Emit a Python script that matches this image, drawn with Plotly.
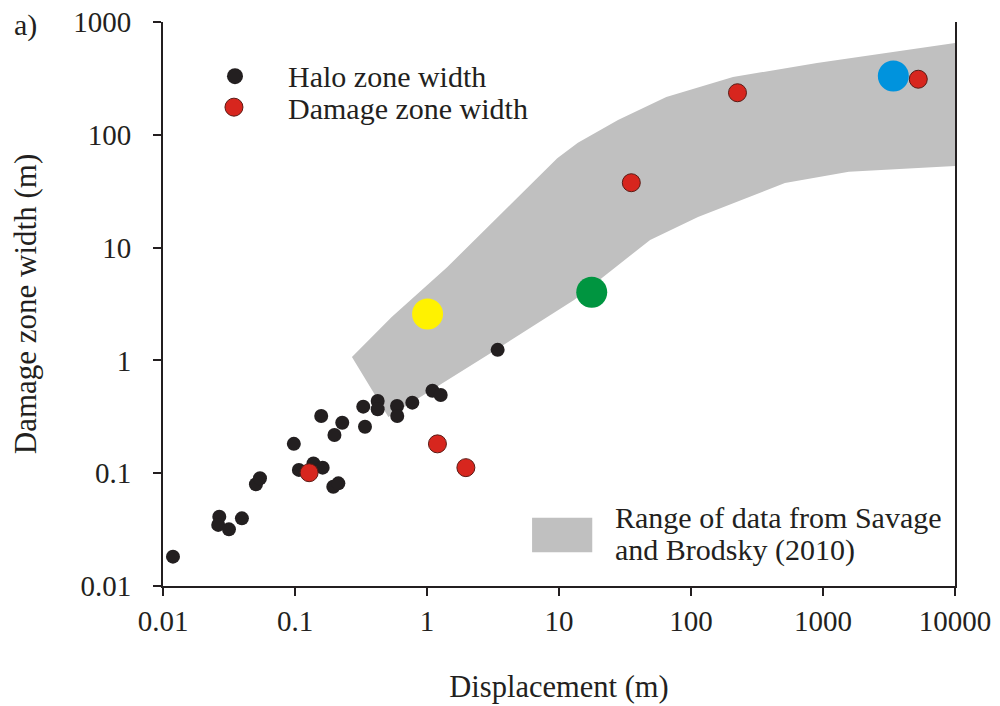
import plotly.graph_objects as go

# halo zone width (black dots)
halo_x = [0.0119, 0.0267, 0.0262, 0.0316, 0.0396, 0.0506, 0.0543, 0.098, 0.107,
          0.138, 0.162, 0.158, 0.199, 0.228, 0.195, 0.213, 0.329, 0.339, 0.423,
          0.423, 0.593, 0.595, 0.774, 1.10, 1.27, 3.43]
halo_y = [0.0182, 0.0412, 0.0348, 0.0318, 0.0398, 0.0798, 0.0901, 0.182, 0.107,
          0.122, 0.112, 0.321, 0.218, 0.280, 0.0759, 0.0813, 0.389, 0.258, 0.437,
          0.369, 0.394, 0.321, 0.422, 0.539, 0.493, 1.24]

# damage zone width (red dots)
dmg_x = [0.128, 1.20, 1.97, 35.3, 225, 5270]
dmg_y = [0.101, 0.182, 0.112, 37.6, 236, 311]

# highlighted faults
big_x = [1.01, 17.7, 3410]
big_y = [2.58, 4.02, 332]
big_col = ['#fff200', '#009540', '#0093dd']

# Savage and Brodsky (2010) envelope
env_x = [0.27, 0.54, 1.42, 9.7, 13.9, 28, 65, 208, 900, 10000,
         10000, 1570, 515, 113, 49, 13, 3.5, 0.51]
env_y = [1.07, 2.43, 6.7, 62, 85, 135, 216, 325, 433, 650,
         53, 47, 37.4, 18.7, 11.7, 3.43, 1.29, 0.315]

ticks = [0.01, 0.1, 1, 10, 100, 1000, 10000]
tick_txt = ['0.01', '0.1', '1', '10', '100', '1000', '10000']

FONT = 'Liberation Serif'
INK = '#231f20'

fig = go.Figure()
fig.add_trace(go.Scatter(x=env_x, y=env_y, fill='toself', mode='none',
                         fillcolor='#c0c0c0', showlegend=False))
fig.add_trace(go.Scatter(x=halo_x, y=halo_y, mode='markers', showlegend=False,
                         marker=dict(size=14, color=INK)))
fig.add_trace(go.Scatter(x=dmg_x, y=dmg_y, mode='markers', showlegend=False,
                         marker=dict(size=18, color='#d7261e',
                                     line=dict(color='#5a1a14', width=1))))
fig.add_trace(go.Scatter(x=big_x, y=big_y, mode='markers', showlegend=False,
                         marker=dict(size=31, color=big_col)))

# legend drawn by hand to match the original layout
shapes = [
    dict(type='circle', xref='paper', yref='paper', xsizemode='pixel', ysizemode='pixel',
         xanchor=0.0909, yanchor=0.904, x0=-8, x1=8, y0=-8, y1=8,
         fillcolor=INK, line=dict(width=0)),
    dict(type='circle', xref='paper', yref='paper', xsizemode='pixel', ysizemode='pixel',
         xanchor=0.0896, yanchor=0.849, x0=-9, x1=9, y0=-9, y1=9,
         fillcolor='#d7261e', line=dict(color='#5a1a14', width=1)),
    dict(type='rect', xref='paper', yref='paper', x0=0.466, x1=0.542, y0=0.060, y1=0.121,
         fillcolor='#c0c0c0', line=dict(width=0)),
]
annotations = [
    dict(text='Halo zone width', x=0.1553, y=0.904),
    dict(text='Damage zone width', x=0.1553, y=0.8475),
    dict(text='Range of data from Savage', x=0.568, y=0.1223),
    dict(text='and Brodsky (2010)', x=0.568, y=0.0638),
    dict(text='a)', x=-0.191, y=0.9947),
]
for a in annotations:
    a.update(xref='paper', yref='paper', xanchor='left', yanchor='middle',
             showarrow=False, font=dict(size=30, family=FONT, color=INK))

axis_common = dict(type='log', showgrid=False, zeroline=False, showline=True,
                   automargin=False, ticklabeloverflow='allow',
                   linecolor=INK, linewidth=2, ticks='outside', ticklen=8,
                   tickwidth=2, tickcolor=INK, tickvals=ticks, ticktext=tick_txt,
                   tickfont=dict(size=29, color=INK, family=FONT))

fig.update_layout(
    width=1000, height=706,
    margin=dict(l=163, r=45, t=22, b=120),
    plot_bgcolor='white', paper_bgcolor='white',
    font=dict(family=FONT, size=30, color=INK),
    xaxis=dict(axis_common, range=[-2, 4], ticklabelstandoff=0,
               title=dict(text='Displacement (m)', standoff=40,
                          font=dict(size=30.5, family=FONT, color=INK))),
    yaxis=dict(axis_common, range=[-2, 3], mirror=True, ticklabelstandoff=16,
               title=dict(text='Damage zone width (m)', standoff=27,
                          font=dict(size=31, family=FONT, color=INK))),
    shapes=shapes, annotations=annotations,
)

# drop the default page margin so the figure sits at the window's corner
fig.write_html('out.html', config={'displayModeBar': False},
               post_script="document.body.style.margin='0';")
